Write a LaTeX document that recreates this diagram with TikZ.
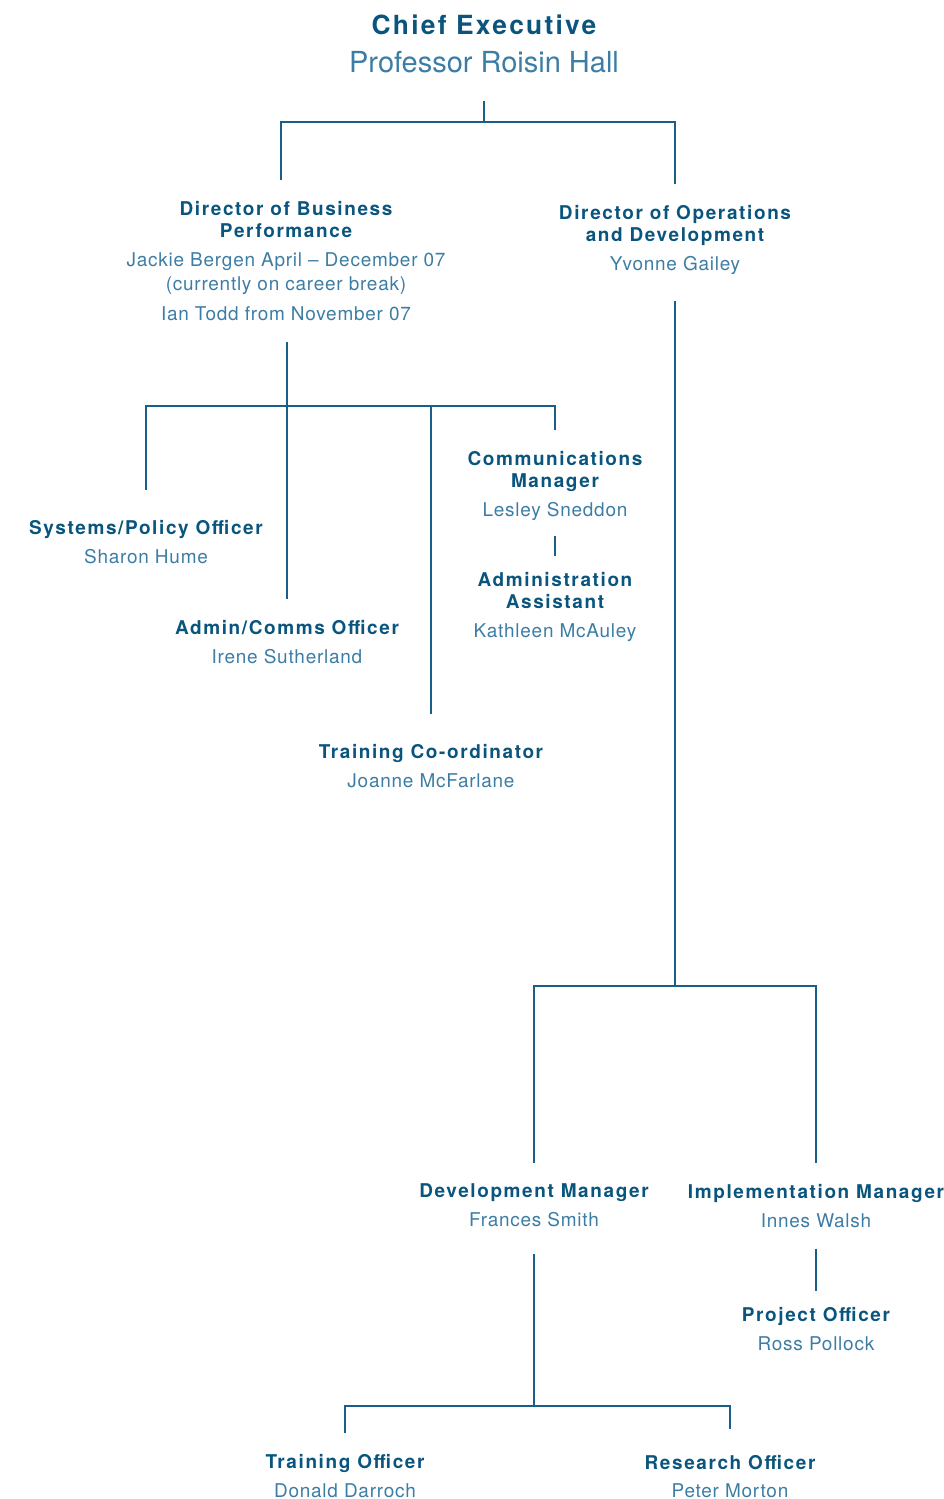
\documentclass[tikz,border=0pt]{standalone}
\usepackage{fontspec}
\setmainfont{TeX Gyre Heros}
\newfontfamily\funkfont{TeX Gyre Heros}[LetterSpace=8.5]
\newfontfamily\imefont{TeX Gyre Heros}[LetterSpace=4]
\definecolor{orgtitl}{RGB}{10,85,125}
\definecolor{orgime}{RGB}{60,125,165}
\definecolor{orglinija}{RGB}{25,95,135}
\newcommand{\funk}[1]{{\funkfont\bfseries\color{orgtitl}#1}}

\begin{document}
\begin{tikzpicture}[
    x=0.02cm, y=-0.02cm,
    osoba/.style={anchor=north, align=center, inner sep=0pt, outer ysep=12pt,
                  yshift=12pt, text=orgime, font=\imefont\fontsize{10.8}{12.5}\selectfont},
    sef/.style={osoba, font=\imefont\fontsize{15}{21.5}\selectfont},
    veza/.style={draw=orglinija, line width=1.4pt}
]
\useasboundingbox (0,0) rectangle (944,1499);

% vrh
\node[sef] (ceo) at (484,15) {\funk{Chief Executive}\\{\setmainfont{TeX Gyre Heros}\fontsize{16.5}{21.5}\selectfont Professor Roisin Hall}};

% direktori
\node[osoba] (dbp) at (286,201) {\funk{Director of Business}\\\funk{Performance}\\[4.5pt]
    Jackie Bergen April \textendash{} December 07\\[1pt](currently on career break)\\[4.5pt]Ian Todd from November 07};
\node[osoba] (dod) at (675,205) {\funk{Director of Operations}\\\funk{and Development}\\[4pt]Yvonne Gailey};

% poslovna izvedba
\node[osoba] (sys) at (146,520) {\funk{Systems/Policy Officer}\\[4pt]Sharon Hume};
\node[osoba] (admin) at (287,620) {\funk{Admin/Comms Officer}\\[4pt]Irene Sutherland};
\node[osoba] (koord) at (431,744) {\funk{Training Co-ordinator}\\[4pt]Joanne McFarlane};
\node[osoba] (komm) at (555,451) {\funk{Communications}\\\funk{Manager}\\[4pt]Lesley Sneddon};
\node[osoba] (asist) at (555,572) {\funk{Administration}\\\funk{Assistant}\\[4pt]Kathleen McAuley};

% operacije i razvoj
\node[osoba] (razvoj) at (534,1184) {\funk{Development Manager}\\[4pt]Frances Smith};
\node[osoba] (impl) at (816,1184) {\funk{Implementation Manager}\\[4pt]Innes Walsh};
\node[osoba] (proj) at (816,1307) {\funk{Project Officer}\\[4pt]Ross Pollock};
\node[osoba] (obuka) at (345,1454) {\funk{Training Officer}\\[4pt]Donald Darroch};
\node[osoba] (istr) at (730,1455) {\funk{Research Officer}\\[3.5pt]Peter Morton};

% razvodi
\coordinate (ceo-r) at (484,122);
\coordinate (dbp-r) at (287,406);
\coordinate (dod-r) at (675,986);
\coordinate (razvoj-r) at (534,1406);

% veze
\draw[veza, shorten <=4pt] (ceo.south) -- (ceo-r);
\draw[veza] ([xshift=-3pt]dbp.north) |- (ceo-r) -| (dod.north);
\draw[veza] (dbp.south -| admin.north) -- (admin.north);
\draw[veza, shorten <=5pt] (sys.north) |- (dbp-r) -| (komm.north);
\draw[veza, shorten <=5pt] (koord.north) |- (dbp-r);
\draw[veza, shorten <=-3pt, shorten >=-3pt] (komm.south) -- (asist.north);
\draw[veza, shorten <=3pt] (dod.south) -- (dod-r);
\draw[veza] (razvoj.north) |- (dod-r) -| (impl.north);
\draw[veza, shorten >=-3pt] (impl.south) -- (proj.north);
\draw[veza, shorten <=3pt] (razvoj.south) -- (razvoj-r);
\draw[veza, shorten >=3pt] (obuka.north) |- (razvoj-r) -| (istr.north);
\end{tikzpicture}
\end{document}
